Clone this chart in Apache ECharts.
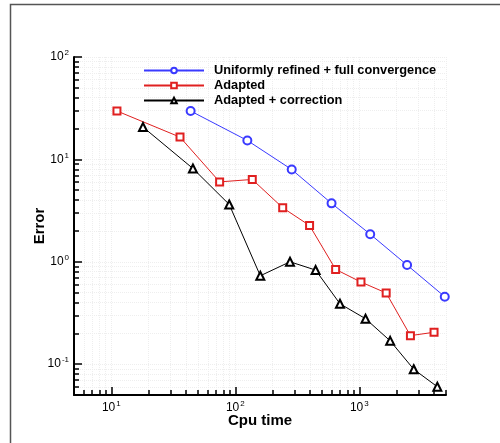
<!DOCTYPE html>
<html>
<head>
<meta charset="utf-8">
<script src="https://cdn.jsdelivr.net/npm/echarts@6/dist/echarts.min.js"></script>
<style>html,body{margin:0;padding:0;background:#fff}#c{width:500px;height:443px}</style>
</head>
<body>
<div id="c"></div>
<script>
// ---- data ----
var seriesNames = ['Uniformly refined + full convergence', 'Adapted', 'Adapted + correction'];
var uniformX = [43.6, 125, 285, 597, 1224, 2427, 4886];
var uniformY = [29.7, 15.3, 7.96, 3.72, 1.86, 0.929, 0.456];
var adaptedX = [11.1, 35.8, 74.7, 137, 241, 397, 644, 1031, 1646, 2583, 4005];
var adaptedY = [29.7, 16.5, 6.03, 6.37, 3.37, 2.26, 0.843, 0.634, 0.496, 0.190, 0.205];
var correctedX = [18.0, 45.5, 89.3, 159, 276, 444, 698, 1122, 1773, 2748, 4256];
var correctedY = [20.7, 8.15, 3.63, 0.730, 1.0, 0.83, 0.389, 0.278, 0.169, 0.0891, 0.0602];
var xMajorTicks = [10, 100, 1000];
var xMinorTicks = [5, 6, 7, 8, 9, 20, 30, 40, 50, 60, 70, 80, 90, 200, 300, 400, 500, 600, 700, 800, 900, 2000, 3000, 4000, 5000];
var yMajorTicks = [0.1, 1, 10, 100];
var yMinorTicks = [0.05, 0.06, 0.07, 0.08, 0.09, 0.2, 0.3, 0.4, 0.5, 0.6, 0.7, 0.8, 0.9, 2, 3, 4, 5, 6, 7, 8, 9, 20, 30, 40, 50, 60, 70, 80, 90];
var xRange = [5, 5000];
var yRange = [0.05, 100];

function pairs(xs, ys) { return xs.map(function (x, i) { return [x, ys[i]]; }); }

var FONT = '"Liberation Sans", Arial, sans-serif';
var supFmt = function (v) { return '{b|10}{s|' + Math.round(Math.log10(v)) + '}'; };
var richLbl = {
  b: { fontSize: 12, fontFamily: FONT, color: '#000' },
  s: { fontSize: 8, fontFamily: FONT, color: '#000', padding: [0, 0, 8, 1] }
};
var gridLine = { show: true, lineStyle: { color: '#eeeeee', type: 'dotted', width: 1 } };

var chart = echarts.init(document.getElementById('c'), null, { renderer: 'canvas' });
chart.setOption({
  animation: false,
  backgroundColor: '#fff',
  graphic: [{
    type: 'rect', shape: { x: 10.5, y: 4.5, width: 600, height: 600 },
    style: { fill: 'none', stroke: '#555', lineWidth: 1.5 }, z: 100
  }],
  grid: { left: 74, top: 57, right: 54, bottom: 48 },
  legend: {
    left: 138, top: 59, orient: 'vertical', itemWidth: 60, itemHeight: 7, itemGap: 2,
    textStyle: { fontFamily: FONT, fontWeight: 'bold', fontSize: 12.8, color: '#000', padding: [0, 0, 0, 5] },
    data: seriesNames
  },
  xAxis: [{
    type: 'log', logBase: 10, min: xRange[0], max: xRange[1], position: 'bottom',
    name: 'Cpu time', nameLocation: 'middle', nameGap: 18, nameMoveOverlap: false,
    nameTextStyle: { fontFamily: FONT, fontWeight: 'bold', fontSize: 15, color: '#000' },
    axisLine: { show: true, lineStyle: { color: '#000', width: 2 } },
    axisTick: { show: true, inside: true, length: 8, customValues: xMajorTicks, lineStyle: { color: '#000', width: 1.5 } },
    axisLabel: { show: true, customValues: xMajorTicks, formatter: supFmt, rich: richLbl, margin: 5 },
    splitLine: gridLine
  }, {
    type: 'log', logBase: 10, min: xRange[0], max: xRange[1], position: 'bottom',
    axisLine: { show: false },
    axisTick: { show: true, inside: true, length: 5, customValues: xMinorTicks, lineStyle: { color: '#000', width: 1.5 } },
    axisLabel: { show: false },
    splitLine: gridLine
  }],
  yAxis: [{
    type: 'log', logBase: 10, min: yRange[0], max: yRange[1], position: 'left',
    name: 'Error', nameLocation: 'middle', nameGap: 27, nameRotate: 90, nameMoveOverlap: false,
    nameTextStyle: { fontFamily: FONT, fontWeight: 'bold', fontSize: 15, color: '#000' },
    axisLine: { show: true, lineStyle: { color: '#000', width: 2 } },
    axisTick: { show: true, inside: true, length: 8, customValues: yMajorTicks, lineStyle: { color: '#000', width: 1.5 } },
    axisLabel: { show: true, customValues: yMajorTicks, formatter: supFmt, rich: richLbl, margin: 5 },
    splitLine: gridLine
  }, {
    type: 'log', logBase: 10, min: yRange[0], max: yRange[1], position: 'left',
    axisLine: { show: false },
    axisTick: { show: true, inside: true, length: 5, customValues: yMinorTicks, lineStyle: { color: '#000', width: 1.5 } },
    axisLabel: { show: false },
    splitLine: gridLine
  }],
  series: [{
    name: seriesNames[0], type: 'line', data: pairs(uniformX, uniformY),
    symbol: 'emptyCircle', symbolSize: 8, color: '#3a3aff',
    lineStyle: { width: 1, color: '#3a3aff' }, itemStyle: { color: '#3a3aff', borderWidth: 1.2 }
  }, {
    name: seriesNames[1], type: 'line', data: pairs(adaptedX, adaptedY),
    symbol: 'emptyRect', symbolSize: 7, color: '#e02020',
    lineStyle: { width: 1, color: '#e02020' }, itemStyle: { color: '#e02020', borderWidth: 1.2 }
  }, {
    name: seriesNames[2], type: 'line', data: pairs(correctedX, correctedY),
    symbol: 'emptyTriangle', symbolSize: 8, color: '#000',
    lineStyle: { width: 1, color: '#000' }, itemStyle: { color: '#000', borderWidth: 1.2 }
  }]
});
</script>
</body>
</html>
